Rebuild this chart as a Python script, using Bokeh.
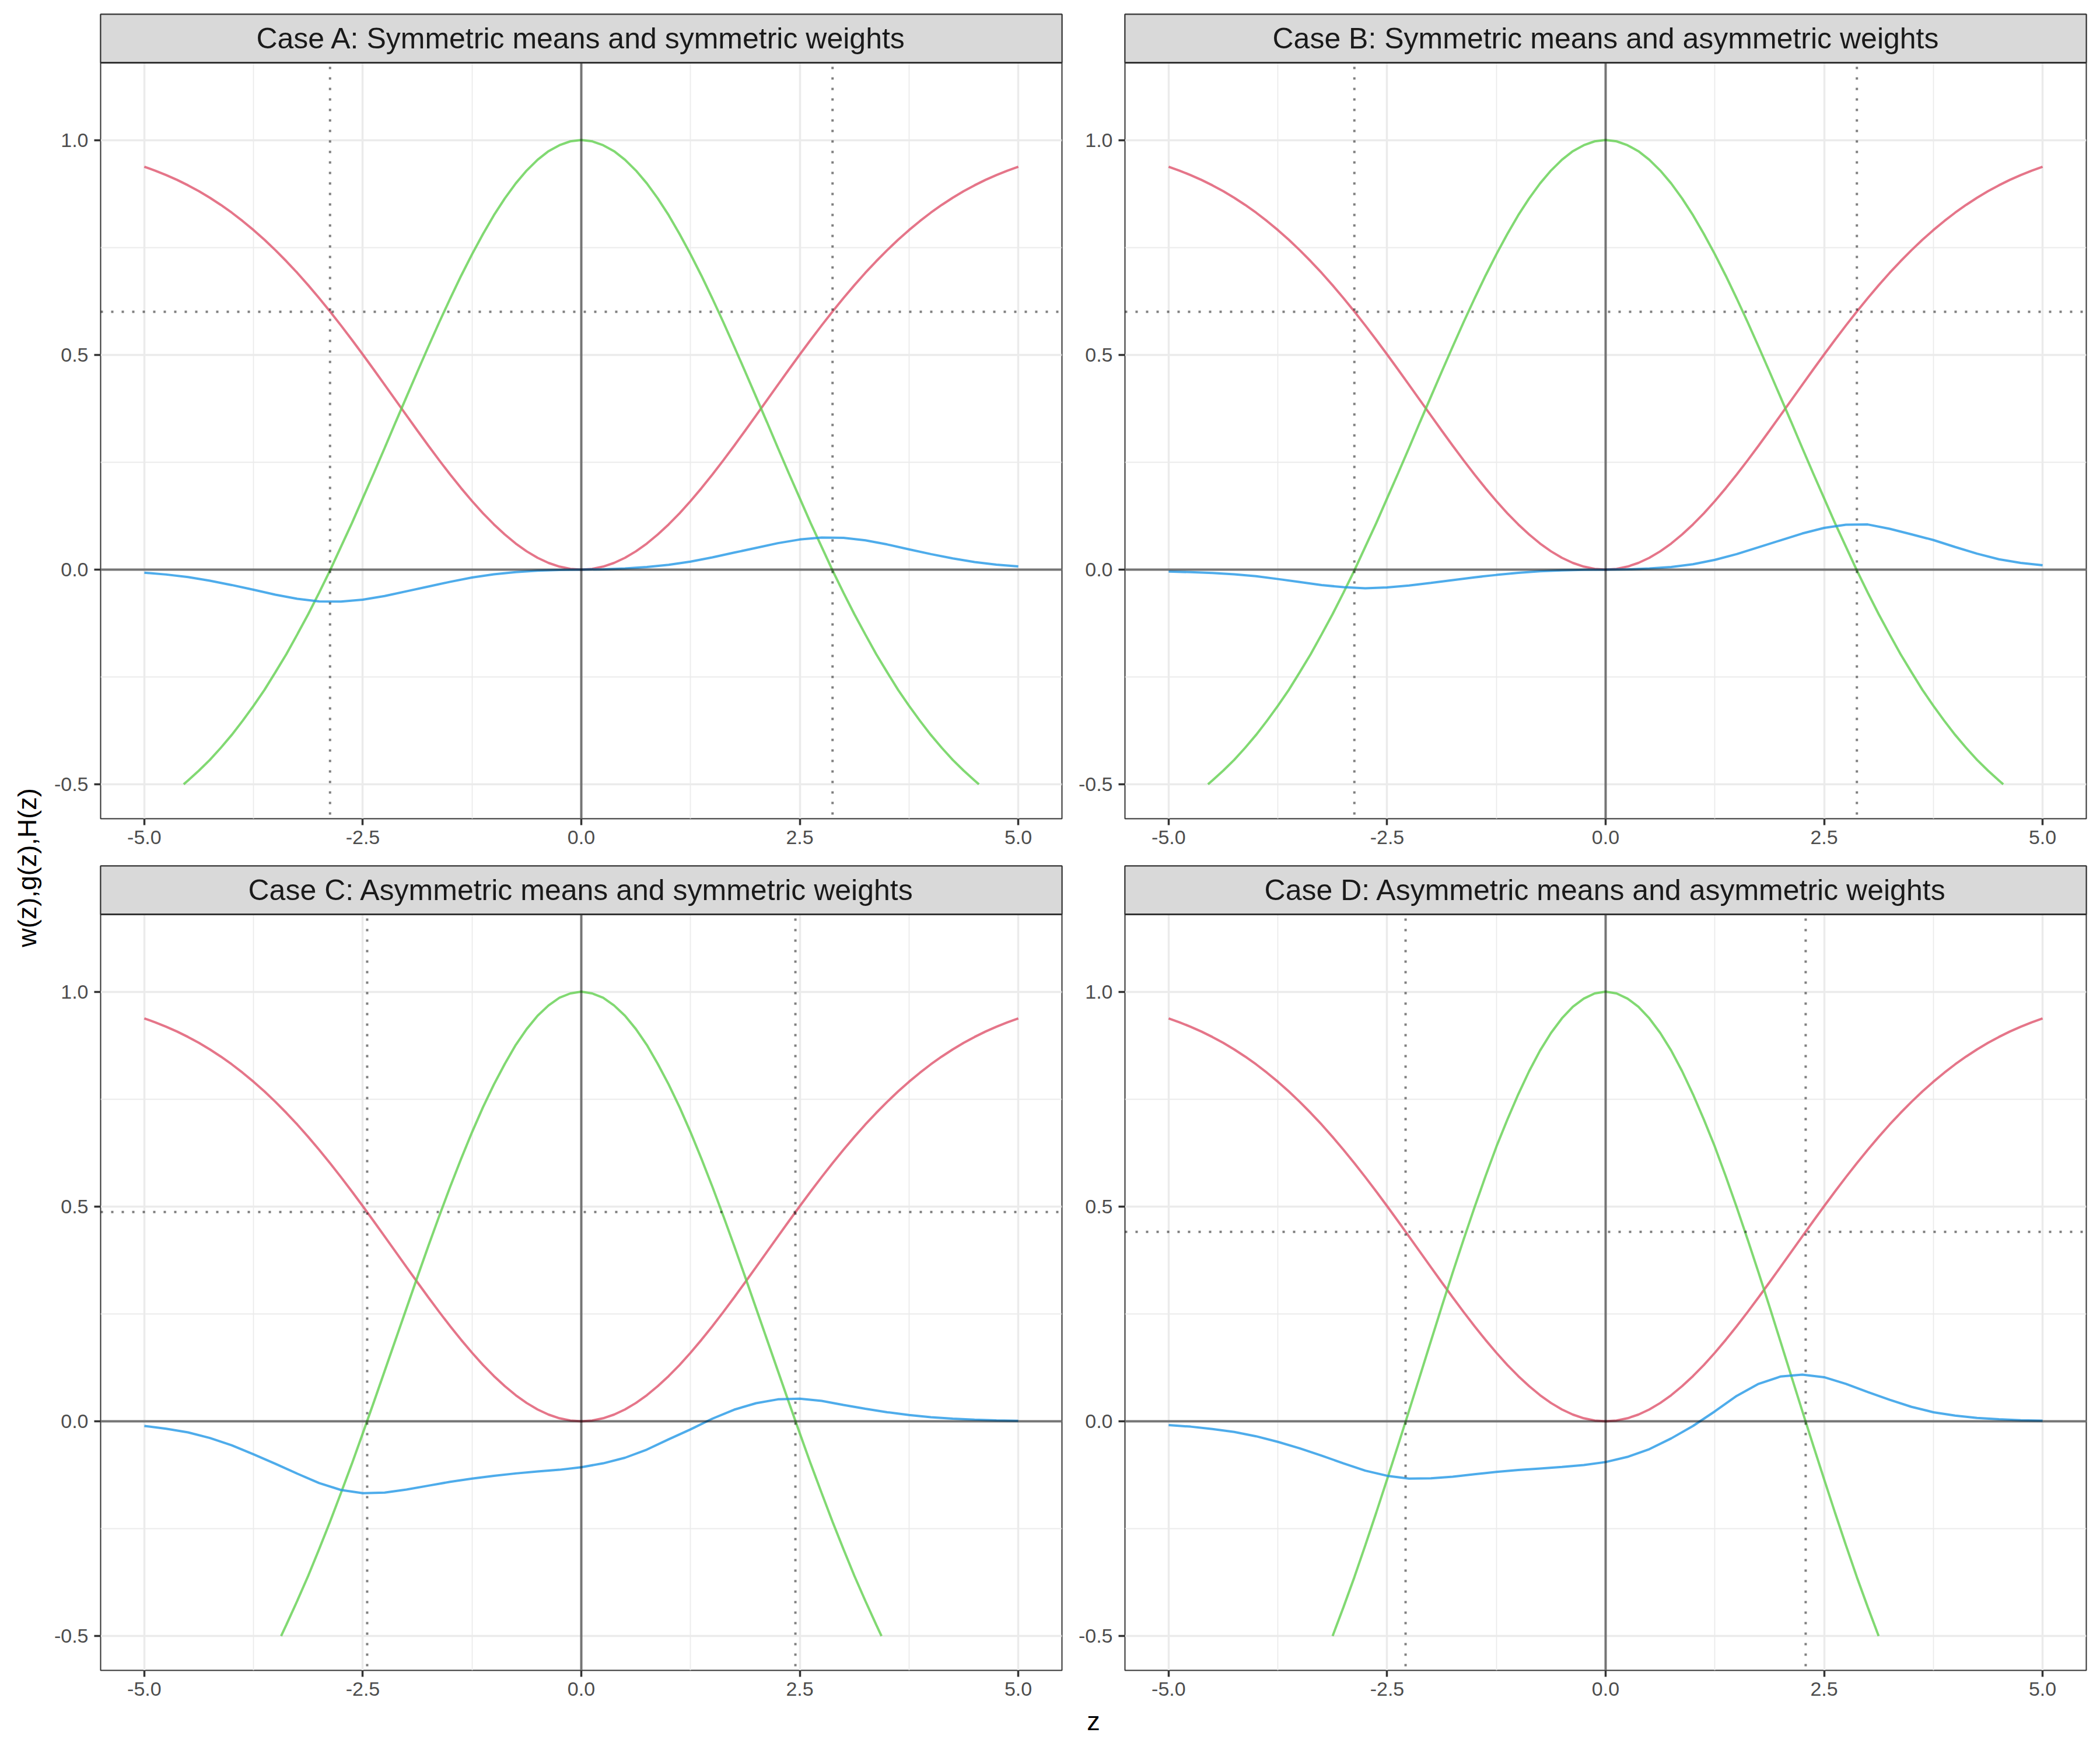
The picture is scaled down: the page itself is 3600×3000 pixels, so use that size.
import math
from bokeh.plotting import figure
from bokeh.models import Range1d, FixedTicker, PrintfTickFormatter, Span
from bokeh.layouts import row, column
from bokeh.core.properties import value
from bokeh.embed import file_html
from bokeh.resources import INLINE

FONT = "Liberation Sans"

# ---------------- data ----------------
# fine grid for w(z)
z_fine = [-5.0, -4.875, -4.75, -4.625, -4.5, -4.375, -4.25, -4.125, -4.0, -3.875,
          -3.75, -3.625, -3.5, -3.375, -3.25, -3.125, -3.0, -2.875, -2.75, -2.625,
          -2.5, -2.375, -2.25, -2.125, -2.0, -1.875, -1.75, -1.625, -1.5, -1.375,
          -1.25, -1.125, -1.0, -0.875, -0.75, -0.625, -0.5, -0.375, -0.25, -0.125,
          0.0,
          0.125, 0.25, 0.375, 0.5, 0.625, 0.75, 0.875, 1.0, 1.125, 1.25,
          1.375, 1.5, 1.625, 1.75, 1.875, 2.0, 2.125, 2.25, 2.375, 2.5,
          2.625, 2.75, 2.875, 3.0, 3.125, 3.25, 3.375, 3.5, 3.625, 3.75,
          3.875, 4.0, 4.125, 4.25, 4.375, 4.5, 4.625, 4.75, 4.875, 5.0]

# w(z): red curve (same in all four cases)
w_vals = [0.9378, 0.9287, 0.9185, 0.9072, 0.8946, 0.8808, 0.8656, 0.8490, 0.8310, 0.8114,
          0.7904, 0.7678, 0.7436, 0.7179, 0.6908, 0.6621, 0.6321, 0.6009, 0.5684, 0.5350,
          0.5007, 0.4657, 0.4302, 0.3945, 0.3588, 0.3234, 0.2884, 0.2543, 0.2212, 0.1895,
          0.1594, 0.1312, 0.1052, 0.0816, 0.0606, 0.0425, 0.0274, 0.0155, 0.0069, 0.0017,
          0.0000,
          0.0017, 0.0069, 0.0155, 0.0274, 0.0425, 0.0606, 0.0816, 0.1052, 0.1312, 0.1594,
          0.1895, 0.2212, 0.2543, 0.2884, 0.3234, 0.3588, 0.3945, 0.4302, 0.4657, 0.5007,
          0.5350, 0.5684, 0.6009, 0.6321, 0.6621, 0.6908, 0.7179, 0.7436, 0.7678, 0.7904,
          0.8114, 0.8310, 0.8490, 0.8656, 0.8808, 0.8946, 0.9072, 0.9185, 0.9287, 0.9378]

# g(z): green curves
z_g_AB = [-4.55, -4.5, -4.375, -4.25, -4.125, -4.0, -3.875, -3.75, -3.625, -3.5,
          -3.375, -3.25, -3.125, -3.0, -2.875, -2.75, -2.625, -2.5, -2.375, -2.25,
          -2.125, -2.0, -1.875, -1.75, -1.625, -1.5, -1.375, -1.25, -1.125, -1.0,
          -0.875, -0.75, -0.625, -0.5, -0.375, -0.25, -0.125,
          0.0,
          0.125, 0.25, 0.375, 0.5, 0.625, 0.75, 0.875, 1.0, 1.125, 1.25,
          1.375, 1.5, 1.625, 1.75, 1.875, 2.0, 2.125, 2.25, 2.375, 2.5,
          2.625, 2.75, 2.875, 3.0, 3.125, 3.25, 3.375, 3.5, 3.625, 3.75,
          3.875, 4.0, 4.125, 4.25, 4.375, 4.5, 4.55]
g_AB = [-0.500, -0.491, -0.468, -0.443, -0.415, -0.385, -0.352, -0.317, -0.280, -0.239,
        -0.197, -0.151, -0.104, -0.054, -0.002, 0.053, 0.108, 0.166, 0.224, 0.283,
        0.343, 0.402, 0.461, 0.519, 0.576, 0.631, 0.684, 0.734, 0.781, 0.825,
        0.864, 0.899, 0.929, 0.954, 0.974, 0.988, 0.997,
        1.000,
        0.997, 0.988, 0.974, 0.954, 0.929, 0.899, 0.864, 0.825, 0.781, 0.734,
        0.684, 0.631, 0.576, 0.519, 0.461, 0.402, 0.343, 0.283, 0.224, 0.166,
        0.108, 0.053, -0.002, -0.054, -0.104, -0.151, -0.197, -0.239, -0.280, -0.317,
        -0.352, -0.385, -0.415, -0.443, -0.468, -0.491, -0.500]

z_g_C = [-3.435, -3.375, -3.25, -3.125, -3.0, -2.875, -2.75, -2.625, -2.5, -2.375,
         -2.25, -2.125, -2.0, -1.875, -1.75, -1.625, -1.5, -1.375, -1.25, -1.125,
         -1.0, -0.875, -0.75, -0.625, -0.5, -0.375, -0.25, -0.125,
         0.0,
         0.125, 0.25, 0.375, 0.5, 0.625, 0.75, 0.875, 1.0, 1.125, 1.25,
         1.375, 1.5, 1.625, 1.75, 1.875, 2.0, 2.125, 2.25, 2.375, 2.5,
         2.625, 2.75, 2.875, 3.0, 3.125, 3.25, 3.375, 3.435]
g_C = [-0.500, -0.474, -0.418, -0.360, -0.298, -0.234, -0.167, -0.099, -0.028, 0.044,
       0.117, 0.190, 0.263, 0.336, 0.408, 0.478, 0.546, 0.611, 0.673, 0.731,
       0.784, 0.832, 0.876, 0.913, 0.944, 0.968, 0.986, 0.996,
       1.000,
       0.996, 0.986, 0.968, 0.944, 0.913, 0.876, 0.832, 0.784, 0.731, 0.673,
       0.611, 0.546, 0.478, 0.408, 0.336, 0.263, 0.190, 0.117, 0.044, -0.028,
       -0.099, -0.167, -0.234, -0.298, -0.360, -0.418, -0.474, -0.500]

z_g_D = [-3.124, -3.0, -2.875, -2.75, -2.625, -2.5, -2.375, -2.25, -2.125, -2.0,
         -1.875, -1.75, -1.625, -1.5, -1.375, -1.25, -1.125, -1.0, -0.875, -0.75,
         -0.625, -0.5, -0.375, -0.25, -0.125,
         0.0,
         0.125, 0.25, 0.375, 0.5, 0.625, 0.75, 0.875, 1.0, 1.125, 1.25,
         1.375, 1.5, 1.625, 1.75, 1.875, 2.0, 2.125, 2.25, 2.375, 2.5,
         2.625, 2.75, 2.875, 3.0, 3.124]
g_D = [-0.500, -0.433, -0.363, -0.289, -0.213, -0.135, -0.056, 0.024, 0.105, 0.186,
       0.267, 0.346, 0.423, 0.498, 0.570, 0.639, 0.702, 0.761, 0.815, 0.863,
       0.904, 0.938, 0.965, 0.984, 0.996,
       1.000,
       0.996, 0.984, 0.965, 0.938, 0.904, 0.863, 0.815, 0.761, 0.702, 0.639,
       0.570, 0.498, 0.423, 0.346, 0.267, 0.186, 0.105, 0.024, -0.056, -0.135,
       -0.213, -0.289, -0.363, -0.433, -0.500]

# H(z): blue curves on a 0.25 grid
z = [-5.0, -4.75, -4.5, -4.25, -4.0, -3.75, -3.5, -3.25, -3.0, -2.75, -2.5,
     -2.25, -2.0, -1.75, -1.5, -1.25, -1.0, -0.75, -0.5, -0.25, 0.0,
     0.25, 0.5, 0.75, 1.0, 1.25, 1.5, 1.75, 2.0, 2.25, 2.5,
     2.75, 3.0, 3.25, 3.5, 3.75, 4.0, 4.25, 4.5, 4.75, 5.0]
H_A = [-0.0072, -0.0115, -0.0175, -0.026, -0.036, -0.047, -0.0585, -0.068, -0.074, -0.0745, -0.070,
       -0.0615, -0.0505, -0.0395, -0.0285, -0.0185, -0.011, -0.006, -0.0025, -0.0007, 0.0,
       0.0007, 0.0025, 0.006, 0.011, 0.0185, 0.0285, 0.0395, 0.0505, 0.0615, 0.070,
       0.0745, 0.074, 0.068, 0.0585, 0.047, 0.036, 0.026, 0.0175, 0.0115, 0.0072]
H_B = [-0.0045, -0.006, -0.008, -0.011, -0.0155, -0.022, -0.029, -0.036, -0.041, -0.0437, -0.0415,
       -0.037, -0.031, -0.0245, -0.018, -0.0125, -0.0075, -0.004, -0.0017, -0.0004, 0.0,
       0.0005, 0.0025, 0.006, 0.0125, 0.0226, 0.036, 0.052, 0.068, 0.084, 0.097,
       0.1045, 0.105, 0.095, 0.082, 0.0688, 0.0525, 0.037, 0.024, 0.0155, 0.010]
H_C = [-0.011, -0.0175, -0.026, -0.039, -0.056, -0.077, -0.099, -0.122, -0.144, -0.160, -0.1675,
       -0.166, -0.159, -0.150, -0.141, -0.1335, -0.127, -0.1215, -0.117, -0.113, -0.107,
       -0.098, -0.085, -0.066, -0.042, -0.019, 0.006, 0.027, 0.042, 0.051, 0.0525,
       0.0475, 0.038, 0.029, 0.021, 0.0145, 0.0095, 0.006, 0.0036, 0.002, 0.001]
H_D = [-0.009, -0.0125, -0.018, -0.025, -0.035, -0.048, -0.063, -0.080, -0.098, -0.115, -0.127,
       -0.1335, -0.133, -0.129, -0.1235, -0.118, -0.1135, -0.110, -0.1065, -0.102, -0.095,
       -0.083, -0.065, -0.040, -0.011, 0.023, 0.059, 0.087, 0.104, 0.1085, 0.1025,
       0.087, 0.068, 0.050, 0.0335, 0.021, 0.013, 0.0077, 0.0045, 0.0023, 0.0014]

# reference lines: horizontal level c and vertical positions +-z_c
c_levels = [0.600, 0.600, 0.487, 0.441]
z_cross = [2.875, 2.875, 2.45, 2.289]

titles = ["Case A: Symmetric means and symmetric weights",
          "Case B: Symmetric means and asymmetric weights",
          "Case C: Asymmetric means and symmetric weights",
          "Case D: Asymmetric means and asymmetric weights"]

x_ticks = [-5.0, -2.5, 0.0, 2.5, 5.0]
x_minor = [-3.75, -1.25, 1.25, 3.75]
y_ticks = [-0.5, 0.0, 0.5, 1.0]
y_minor = [-0.25, 0.25, 0.75]

RED, GREEN, BLUE = "#DF536B", "#61D04F", "#2297E6"

# ---------------- layout constants ----------------
FW, PH, SH = 1648, 1296, 83          # frame width, plot height, strip height
Y0, Y1 = -0.58, 1.18
Y_TOP = Y1 + SH * (Y1 - Y0) / PH


def panel(title, gz, gv, hv, c, zc, bl, br, bt, bb):
    p = figure(frame_width=FW, frame_height=PH + SH,
               x_range=Range1d(-5.5, 5.5), y_range=Range1d(Y0, Y_TOP),
               min_border_left=bl, min_border_right=br, min_border_top=bt, min_border_bottom=bb,
               output_backend="svg", toolbar_location=None, title=None)
    p.background_fill_color = "white"
    p.border_fill_color = "white"
    p.outline_line_color = "#333333"
    p.outline_line_width = 2

    p.xaxis.ticker = FixedTicker(ticks=x_ticks, minor_ticks=x_minor)
    p.yaxis.ticker = FixedTicker(ticks=y_ticks, minor_ticks=y_minor)
    for ax in (p.xaxis[0], p.yaxis[0]):
        ax.formatter = PrintfTickFormatter(format="%.1f")
        ax.axis_line_color = None
        ax.minor_tick_line_color = None
        ax.major_tick_line_color = "#333333"
        ax.major_tick_line_width = 3.5
        ax.major_tick_out = 11
        ax.major_tick_in = 0
        ax.major_label_text_font = FONT
        ax.major_label_text_font_size = "34px"
        ax.major_label_text_color = "#4D4D4D"
    p.xaxis.major_label_standoff = 9
    p.yaxis.major_label_standoff = 10

    for gr in (p.xgrid[0], p.ygrid[0]):
        gr.grid_line_color = "#EBEBEB"
        gr.grid_line_width = 3.5
        gr.minor_grid_line_color = "#EBEBEB"
        gr.minor_grid_line_width = 1.8

    p.line(z_fine, w_vals, line_color=RED, line_width=4, line_alpha=0.8)
    p.line(gz, gv, line_color=GREEN, line_width=4, line_alpha=0.8)
    p.line(z, hv, line_color=BLUE, line_width=4, line_alpha=0.8)

    dot = dict(line_color="black", line_alpha=0.5, line_width=4, line_dash="4 14")
    p.add_layout(Span(location=c, dimension="width", **dot))
    p.add_layout(Span(location=-zc, dimension="height", **dot))
    p.add_layout(Span(location=zc, dimension="height", **dot))
    p.add_layout(Span(location=0, dimension="width", line_color="black", line_alpha=0.5, line_width=4))
    p.add_layout(Span(location=0, dimension="height", line_color="black", line_alpha=0.5, line_width=4))

    # facet strip
    p.quad(left=-5.5, right=5.5, bottom=Y1, top=Y_TOP, fill_color="#D9D9D9",
           line_color="#333333", line_width=2, level="overlay")
    p.add_layout(Span(location=Y1, dimension="width", line_color="#333333", line_width=3, level="overlay"))
    p.text(x=[0.0], y=[(Y1 + Y_TOP) / 2], text=[title], text_font=value(FONT),
           text_font_size="50px", text_color="#1A1A1A", text_align="center",
           text_baseline="middle", level="overlay")
    return p


pA = panel(titles[0], z_g_AB, g_AB, H_A, c_levels[0], z_cross[0], 94, 10, 24, 70)
pB = panel(titles[1], z_g_AB, g_AB, H_B, c_levels[1], z_cross[1], 98, 24, 24, 70)
pC = panel(titles[2], z_g_C, g_C, H_C, c_levels[2], z_cross[2], 94, 10, 11, 60)
pD = panel(titles[3], z_g_D, g_D, H_D, c_levels[3], z_cross[3], 98, 24, 11, 60)


def blank(w, h):
    f = figure(width=w, height=h, x_range=Range1d(0, w), y_range=Range1d(0, h),
               min_border=0, x_axis_location=None, y_axis_location=None,
               output_backend="svg", toolbar_location=None, title=None)
    f.grid.visible = False
    f.outline_line_color = None
    f.background_fill_color = "white"
    f.border_fill_color = "white"
    return f


ROWS_H = (24 + PH + SH + 70) + (11 + PH + SH + 60)
yt = blank(78, ROWS_H)
yt.text(x=[46], y=[ROWS_H - 1487], text=["w(z),g(z),H(z)"], angle=math.pi / 2,
        text_font=value(FONT), text_font_size="45px", text_color="black",
        text_align="center", text_baseline="middle")

XT_H = 3000 - ROWS_H
xt = blank(3600, XT_H)
xt.text(x=[1874], y=[XT_H - 27], text=["z"],
        text_font=value(FONT), text_font_size="45px", text_color="black",
        text_align="center", text_baseline="middle")

layout = column(row(yt, column(row(pA, pB), row(pC, pD))), xt)

open("out.html", "w").write(file_html(layout, INLINE))
